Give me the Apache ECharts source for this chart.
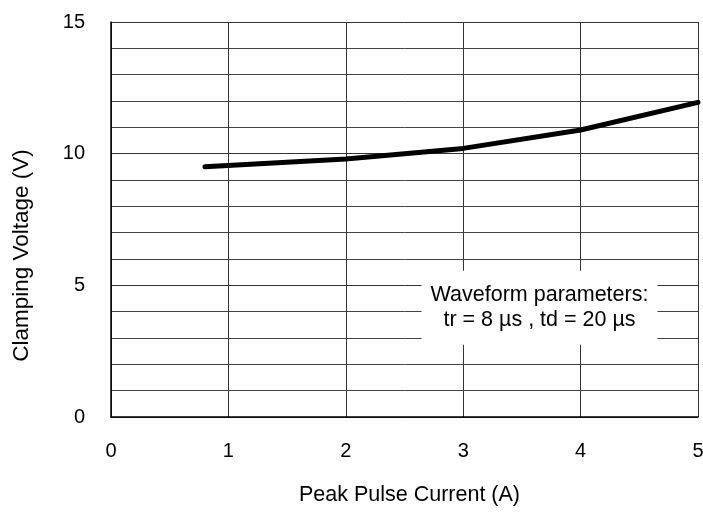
<!DOCTYPE html>
<html>
<head>
<meta charset="utf-8">
<script src="https://cdn.jsdelivr.net/npm/echarts@6/dist/echarts.min.js"></script>
<style>html,body{margin:0;padding:0;background:#fff}#c{width:703px;height:513px}</style>
</head>
<body>
<div id="c"></div>
<script>
const xValues = [0.8, 2, 3, 4, 5];
const yValues = [9.5, 9.8, 10.2, 10.9, 11.95];
const xTicks = [0, 1, 2, 3, 4, 5];
const yTicks = [0, 5, 10, 15];
const noteLines = ['Waveform parameters:', 'tr = 8 µs , td = 20 µs'];
const notePos = [3.65, 4.15];

const font = 'Liberation Sans, Arial, sans-serif';
const chart = echarts.init(document.getElementById('c'), null, {renderer: 'canvas'});
chart.setOption({
  animation: false,
  grid: {left: 111, top: 22, right: 5, bottom: 96, containLabel: false, outerBoundsMode: 'none'},
  xAxis: {
    type: 'value', min: xTicks[0], max: xTicks[xTicks.length - 1], interval: 1,
    name: 'Peak Pulse Current (A)', nameLocation: 'middle', nameGap: 67,
    nameTextStyle: {fontFamily: font, fontSize: 21.5, color: '#000', padding: [0, 0, 0, 10]},
    axisLine: {show: true, lineStyle: {color: '#000', width: 1.5}},
    axisTick: {show: false},
    axisLabel: {fontFamily: font, fontSize: 20, color: '#000', margin: 24},
    splitLine: {show: true, lineStyle: {color: '#333', width: 1}}
  },
  yAxis: {
    type: 'value', min: yTicks[0], max: yTicks[yTicks.length - 1], interval: 5,
    name: 'Clamping Voltage (V)', nameLocation: 'middle', nameGap: 78,
    nameTextStyle: {fontFamily: font, fontSize: 22.5, color: '#000', padding: [0, 72, 0, 0]},
    axisLine: {show: true, lineStyle: {color: '#000', width: 1.5}},
    axisTick: {show: false},
    axisLabel: {fontFamily: font, fontSize: 20, color: '#000', margin: 26},
    splitLine: {show: true, lineStyle: {color: '#333', width: 1}},
    minorTick: {show: false, splitNumber: 5},
    minorSplitLine: {show: true, lineStyle: {color: '#444', width: 1}}
  },
  series: [
    {
      type: 'line',
      data: xValues.map((x, i) => [x, yValues[i]]),
      symbol: 'none',
      lineStyle: {color: '#000', width: 5, cap: 'round'},
      z: 5
    },
    {
      type: 'scatter',
      data: [notePos],
      symbolSize: 0,
      silent: true,
      z: 10,
      label: {
        show: true, position: 'inside',
        formatter: noteLines.join('\n'),
        fontFamily: font, fontSize: 21.5, color: '#000', opacity: 1,
        textBorderWidth: 0,
        lineHeight: 25, align: 'center',
        backgroundColor: '#fff',
        padding: [12, 9, 12, 9]
      }
    }
  ]
});
</script>
</body>
</html>
